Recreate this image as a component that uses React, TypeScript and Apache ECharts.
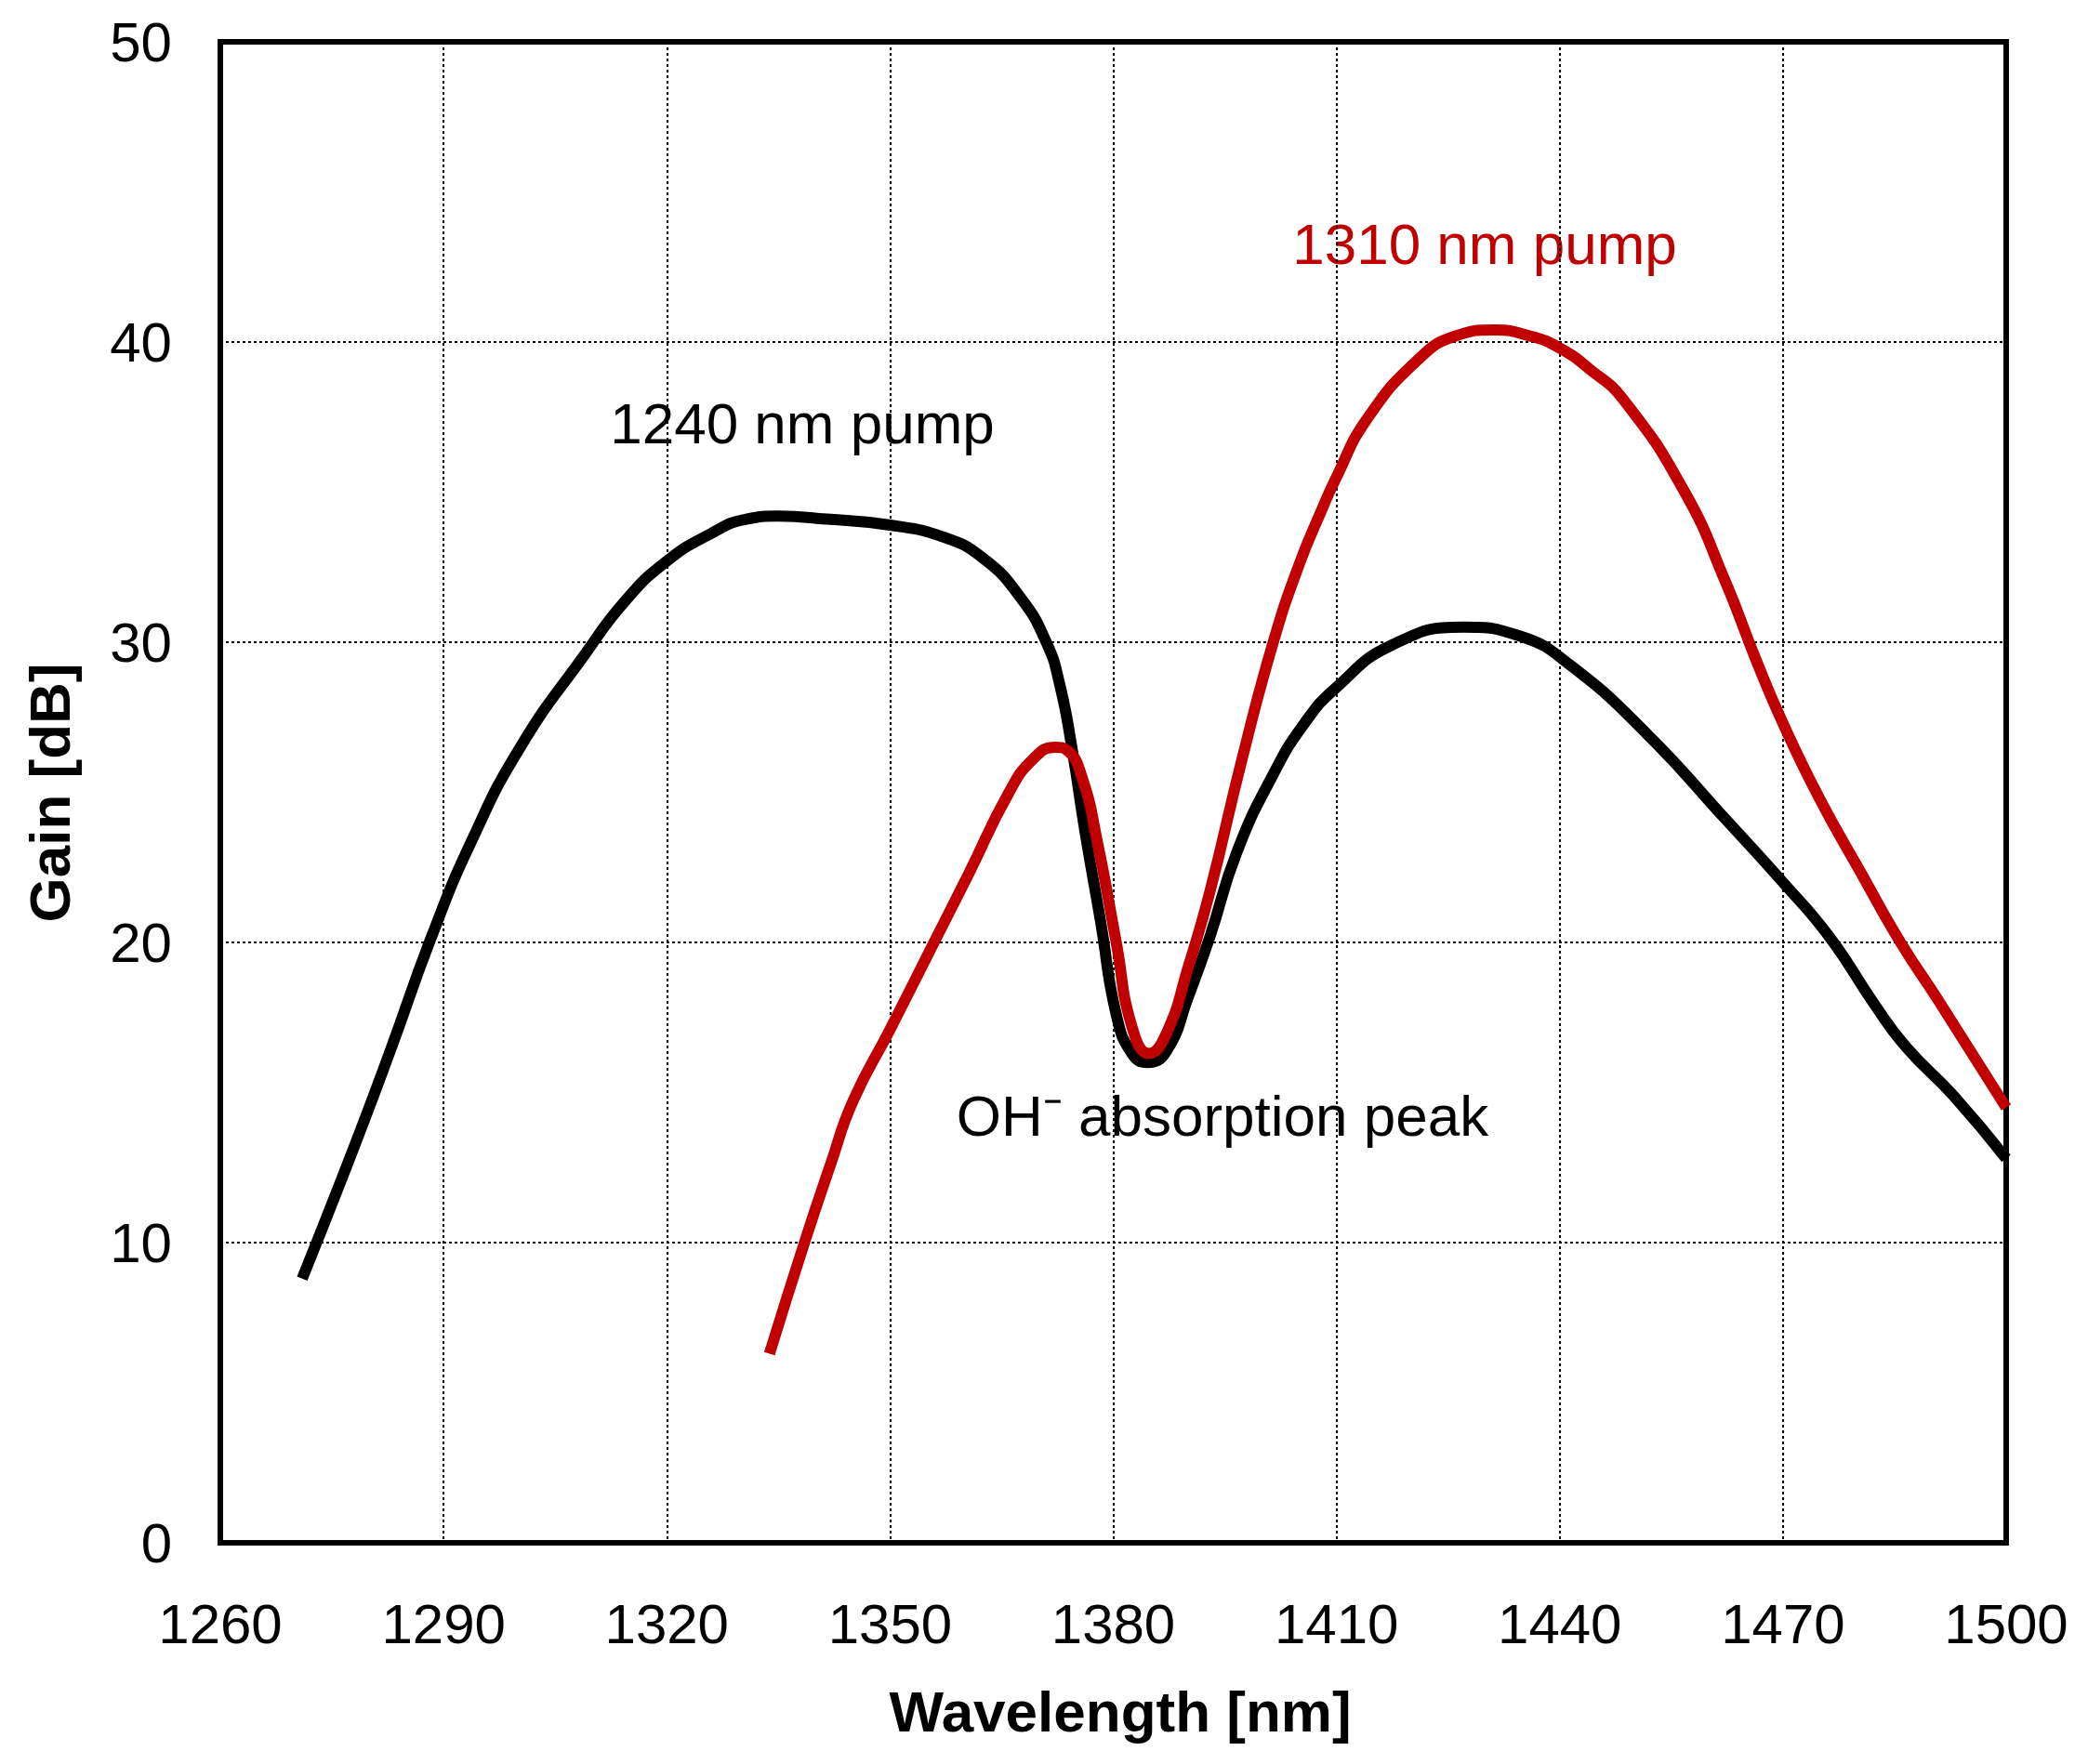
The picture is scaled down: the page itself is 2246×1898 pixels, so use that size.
import React, { useEffect, useRef } from "react";
import * as echarts from "echarts";

const xTicks = [1260, 1290, 1320, 1350, 1380, 1410, 1440, 1470, 1500];
const yTicks = [0, 10, 20, 30, 40, 50];

const wl1240 = [
  1271, 1278, 1283, 1288.4, 1293.8, 1300.3, 1309, 1314.5, 1320, 1325.8, 1330.7,
  1335, 1341.5, 1350, 1357.2, 1362.5, 1367.5, 1371, 1372.8, 1374.5, 1376.2,
  1378.3, 1380.4, 1382.5, 1384.6, 1387.2, 1390.1, 1393, 1396.6, 1401.5, 1405.7,
  1410, 1417.4, 1427, 1434.7, 1441.6, 1451.9, 1462.3, 1470, 1476.2, 1482.4,
  1486.6, 1492.9, 1500,
];
const gain1240 = [
  8.8, 13.2, 16.5, 20.2, 23.4, 26.5, 29.6, 31.4, 32.7, 33.6, 34.1,
  34.2, 34.1, 33.9, 33.5, 32.8, 31.5, 30.0, 28.6, 26.4, 23.7,
  20.7, 17.6, 16.3, 16.0, 16.4, 18.2, 20.2, 23.0, 25.6, 27.3,
  28.5, 29.9, 30.5, 30.2, 29.2, 26.9, 24.1, 22.0, 20.2, 17.9,
  16.5, 14.9, 12.8,
];

const wl1310 = [
  1333.8, 1338.5, 1342, 1345, 1350, 1355.5, 1360.6, 1366, 1369.2, 1372.2, 1373.8,
  1375.8, 1377.9, 1380.4, 1382.5, 1384.8, 1387.2, 1390.1, 1393, 1397.2, 1401.5,
  1405, 1408, 1410, 1414, 1420.9, 1426, 1431.2, 1436, 1440, 1444, 1448.5, 1456.8,
  1462.3, 1466.4, 1470, 1474.9, 1480.3, 1485.8, 1490.8, 1500,
];
const gain1310 = [
  6.3, 10.0, 12.6, 14.7, 17.1, 19.8, 22.3, 25.0, 26.1, 26.5, 26.4,
  25.5, 23.3, 20.0, 17.2, 16.3, 17.0, 19.2, 21.7, 26.0, 30.0,
  32.6, 34.4, 35.5, 37.4, 39.4, 40.2, 40.4, 40.2, 39.8, 39.1, 38.1, 35.0,
  32.0, 29.4, 27.3, 24.8, 22.4, 20.0, 18.1, 14.5,
];

const labels = {
  x: "Wavelength [nm]",
  y: "Gain [dB]",
  pump1240: "1240 nm pump",
  pump1310: "1310 nm pump",
  oh: "OH\u207B absorption peak",
};

const FONT = '"Liberation Sans", Arial, Helvetica, sans-serif';

export default function App() {
  const ref = useRef<HTMLDivElement>(null);
  useEffect(() => {
    if (!ref.current) return;
    const chart = echarts.init(ref.current, null, { renderer: "svg" });
    const pairs = (xs: number[], ys: number[]) => xs.map((x, i) => [x, ys[i]]);
    chart.setOption({
      animation: false,
      backgroundColor: "#fff",
      textStyle: { fontFamily: FONT },
      grid: {
        left: 237,
        right: 88,
        top: 45,
        bottom: 238,
        show: true,
        borderColor: "#000",
        borderWidth: 6,
        containLabel: false,
      },
      xAxis: {
        type: "value",
        min: xTicks[0],
        max: xTicks[xTicks.length - 1],
        interval: xTicks[1] - xTicks[0],
        axisLine: { show: false },
        axisTick: { show: false },
        axisLabel: {
          color: "#000",
          fontSize: 60,
          fontFamily: FONT,
          margin: 57,
          lineHeight: 60,
          formatter: (v: number) => String(v),
        },
        splitLine: {
          show: true,
          lineStyle: { color: "#000", width: 2, type: [3, 3] },
        },
      },
      yAxis: {
        type: "value",
        min: yTicks[0],
        max: yTicks[yTicks.length - 1],
        interval: yTicks[1] - yTicks[0],
        axisLine: { show: false },
        axisTick: { show: false },
        axisLabel: {
          color: "#000",
          fontSize: 60,
          fontFamily: FONT,
          margin: 52,
          formatter: (v: number) => String(v),
        },
        splitLine: {
          show: true,
          lineStyle: { color: "#000", width: 2, type: [3, 3] },
        },
      },
      series: [
        {
          name: labels.pump1240,
          type: "line",
          data: pairs(wl1240, gain1240),
          showSymbol: false,
          symbol: "none",
          smooth: 0.5,
          lineStyle: { color: "#000000", width: 12 },
          z: 3,
        },
        {
          name: labels.pump1310,
          type: "line",
          data: pairs(wl1310, gain1310),
          showSymbol: false,
          symbol: "none",
          smooth: 0.5,
          lineStyle: { color: "#c00000", width: 12 },
          z: 4,
        },
      ],
      graphic: [
        {
          type: "text",
          x: 863,
          y: 455,
          style: {
            text: labels.pump1240,
            fontSize: 62,
            fontFamily: FONT,
            fill: "#000",
            align: "center",
            verticalAlign: "middle",
          },
        },
        {
          type: "text",
          x: 1597,
          y: 262,
          style: {
            text: labels.pump1310,
            fontSize: 62,
            fontFamily: FONT,
            fill: "#c00000",
            align: "center",
            verticalAlign: "middle",
          },
        },
        {
          type: "text",
          x: 1315,
          y: 1200,
          style: {
            text: labels.oh,
            fontSize: 62,
            fontFamily: FONT,
            fill: "#000",
            align: "center",
            verticalAlign: "middle",
          },
        },
        {
          type: "text",
          x: 1205,
          y: 1841,
          style: {
            text: labels.x,
            fontSize: 62,
            fontWeight: "bold",
            fontFamily: FONT,
            fill: "#000",
            align: "center",
            verticalAlign: "middle",
          },
        },
        {
          type: "text",
          x: 53,
          y: 853,
          rotation: Math.PI / 2,
          style: {
            text: labels.y,
            fontSize: 62,
            fontWeight: "bold",
            fontFamily: FONT,
            fill: "#000",
            align: "center",
            verticalAlign: "middle",
          },
        },
      ],
    });
    return () => chart.dispose();
  }, []);
  return (
    <div
      ref={ref}
      style={{ position: "absolute", left: 0, top: 0, width: 2246, height: 1898 }}
    />
  );
}
